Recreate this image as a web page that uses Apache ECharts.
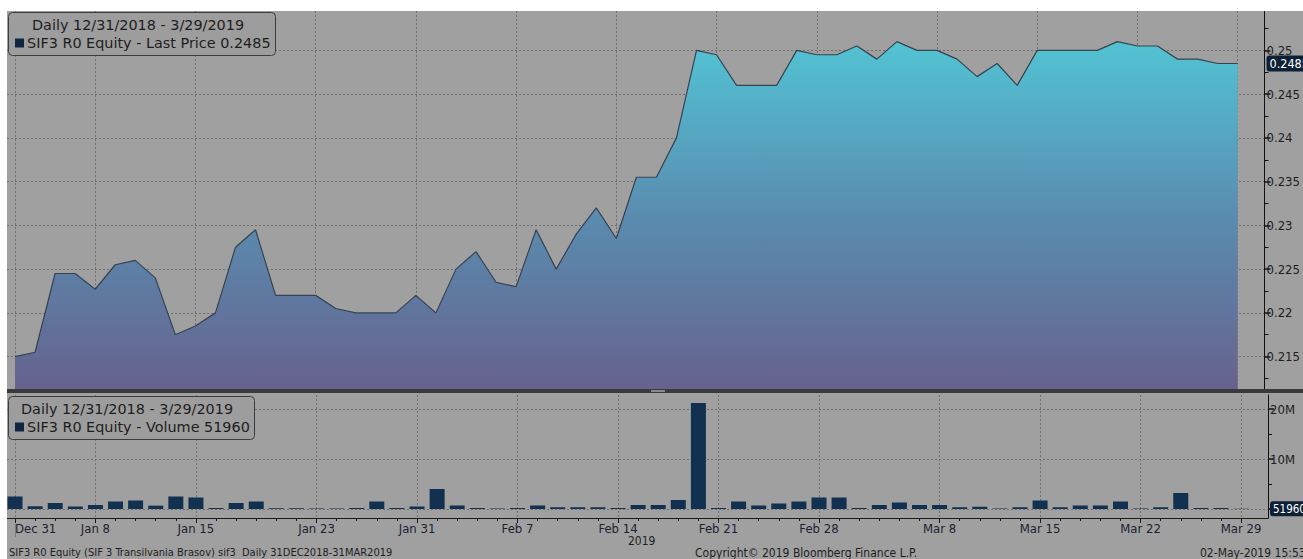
<!DOCTYPE html>
<html>
<head>
<meta charset="utf-8">
<script src="https://cdn.jsdelivr.net/npm/echarts@6/dist/echarts.min.js"></script>
<style>
html,body{margin:0;padding:0;background:#fff;}
#c{width:1303px;height:559px;}
</style>
</head>
<body>
<div id="c"></div>
<script>
// ---------- data ----------
const dates = [
 '2018-12-31',
 '2019-01-03','2019-01-04','2019-01-07','2019-01-08','2019-01-09','2019-01-10','2019-01-11',
 '2019-01-14','2019-01-15','2019-01-16','2019-01-17','2019-01-18','2019-01-21','2019-01-22',
 '2019-01-23','2019-01-25','2019-01-28','2019-01-29','2019-01-30','2019-01-31',
 '2019-02-01','2019-02-04','2019-02-05','2019-02-06','2019-02-07','2019-02-08','2019-02-11',
 '2019-02-12','2019-02-13','2019-02-14','2019-02-15','2019-02-18','2019-02-19','2019-02-20',
 '2019-02-21','2019-02-22','2019-02-25','2019-02-26','2019-02-27','2019-02-28',
 '2019-03-01','2019-03-04','2019-03-05','2019-03-06','2019-03-07','2019-03-08','2019-03-11',
 '2019-03-12','2019-03-13','2019-03-14','2019-03-15','2019-03-18','2019-03-19','2019-03-20',
 '2019-03-21','2019-03-22','2019-03-25','2019-03-26','2019-03-27','2019-03-28','2019-03-29'
];
const lastPrice = [
 0.2150,0.2155,0.2245,0.2245,0.2227,0.2255,0.2260,0.2240,0.2175,0.2185,
 0.2200,0.2275,0.2295,0.2220,0.2220,0.2220,0.2205,0.2200,0.2200,0.2200,
 0.2220,0.2200,0.2250,0.2270,0.2235,0.2230,0.2295,0.2250,0.2290,0.2320,
 0.2285,0.2355,0.2355,0.2400,0.2500,0.2495,0.2460,0.2460,0.2460,0.2500,
 0.2495,0.2495,0.2505,0.2490,0.2510,0.2500,0.2500,0.2490,0.2470,0.2485,
 0.2460,0.2500,0.2500,0.2500,0.2500,0.2510,0.2505,0.2505,0.2490,0.2490,
 0.2485,0.2485
];
const volume = [
 2500000,530000,1200000,500000,800000,1500000,1700000,670000,2500000,2300000,
 200000,1200000,1500000,150000,150000,100000,100000,200000,1500000,200000,
 500000,4000000,700000,200000,100000,200000,700000,350000,350000,350000,
 200000,800000,800000,1800000,21200000,200000,1500000,700000,1100000,1500000,
 2300000,2300000,200000,800000,1300000,800000,800000,350000,450000,100000,
 350000,1700000,350000,700000,700000,1500000,100000,350000,3200000,200000,
 200000,51960
];
const tickDates  = ['2018-12-31','2019-01-08','2019-01-15','2019-01-23','2019-01-31','2019-02-07',
                    '2019-02-14','2019-02-21','2019-02-28','2019-03-08','2019-03-15','2019-03-22','2019-03-29'];
const tickLabels = ['Dec 31','Jan 8','Jan 15','Jan 23','Jan 31','Feb 7',
                    'Feb 14','Feb 21','Feb 28','Mar 8','Mar 15','Mar 22','Mar 29'];
const priceTicks = [0.215,0.22,0.225,0.23,0.235,0.24,0.245,0.25];
const priceMinorTicks = [0.2125,0.2175,0.2225,0.2275,0.2325,0.2375,0.2425,0.2475,0.2525];
const volTicks = [0,10000000,20000000];
const volTickLabels = [10000000,20000000];
const volMinorTicks = [5000000,15000000];
const priceTitle = 'Daily 12/31/2018 - 3/29/2019';
const priceLegend = 'SIF3 R0 Equity - Last Price 0.2485';
const volTitle = 'Daily 12/31/2018 - 3/29/2019';
const volLegend = 'SIF3 R0 Equity - Volume 51960';
const footLeft = 'SIF3 R0 Equity (SIF 3 Transilvania Brasov) sif3  Daily 31DEC2018-31MAR2019';
const footMid = 'Copyright\u00A9 2019 Bloomberg Finance L.P.';
const footRight = '02-May-2019 15:53:38';
const yearLabel = '2019';

// ---------- build ----------
const tickIdx = tickDates.map(d => dates.indexOf(d));
const dayIdx = dates.map((d, i) => i).filter(i => tickIdx.indexOf(i) < 0);
const labelOf = {};
tickIdx.forEach((i, k) => labelOf[i] = tickLabels[k]);
const priceData = lastPrice.map((v, i) => [i, v]);
const volData = volume.map((v, i) => [i, v]);
const lastP = lastPrice[lastPrice.length - 1];
const lastV = volume[volume.length - 1];

const AX = "'Liberation Sans Narrow','DejaVu Sans Condensed',sans-serif";
const LG = "'DejaVu Sans',sans-serif";
const GRIDLINE = {show: true, lineStyle: {color: '#6f6f6f', type: [2, 2], width: 1}};
const XMIN = -0.4, XMAX = 62.34;

const chart = echarts.init(document.getElementById('c'), null, {renderer: 'svg'});

function legendBox(left, top, t1, t2, indent) {
  return {
    left: left, top: top,
    text: '{a|' + t1 + '}\n{s|}{b|' + t2 + '}',
    padding: [4, 5, 4, 7],
    borderColor: '#3c3c3c', borderWidth: 1, borderRadius: 4,
    backgroundColor: '#9d9d9d',
    textStyle: {
      fontFamily: LG, fontSize: 14.4, fontWeight: 'normal', color: '#1e1e1e', lineHeight: 18,
      rich: {
        a: {fontFamily: LG, fontSize: 14.4, color: '#1e1e1e', padding: [0, 0, 0, indent], lineHeight: 18},
        s: {width: 9, height: 9, backgroundColor: '#0f2540'},
        b: {fontFamily: LG, fontSize: 14.4, color: '#1e1e1e', padding: [0, 0, 0, 3], lineHeight: 18}
      }
    }
  };
}

function lastLabel(v, fs) {
  return {silent: true, symbol: 'none', precision: 6,
    lineStyle: {color: 'rgba(0,0,0,0)', width: 1, type: 'solid'},
    label: {show: true, position: 'end', distance: 2, formatter: String(v), color: '#ffffff',
            backgroundColor: '#0d2036', padding: [2, 1, 1, 3], borderRadius: 3,
            fontFamily: AX, fontSize: fs},
    data: [{yAxis: v}]};
}

const option = {
  backgroundColor: '#a0a0a0',
  animation: false,
  title: [
    legendBox(8, 12, priceTitle, priceLegend, 17),
    legendBox(8, 396, volTitle, volLegend, 6)
  ],
  grid: [
    {left: 7, right: 35, top: 11, height: 378},
    {left: 7, right: 35, top: 395, height: 123}
  ],
  xAxis: [
    {type: 'value', gridIndex: 0, min: XMIN, max: XMAX,
     axisLine: {show: false, onZero: false}, axisLabel: {show: false, customValues: tickIdx},
     axisTick: {show: false, customValues: tickIdx}, splitLine: GRIDLINE},
    {type: 'value', gridIndex: 1, position: 'bottom', min: XMIN, max: XMAX,
     axisLine: {show: true, onZero: false, lineStyle: {color: '#1a1a1a', width: 1}},
     axisTick: {show: true, customValues: tickIdx, length: 5, lineStyle: {color: '#1a1a1a'}},
     axisLabel: {customValues: tickIdx, fontFamily: AX, fontSize: 13, color: '#1c2233', margin: 4,
                 alignMinLabel: 'left',
                 formatter: v => labelOf[Math.round(v)] || ''},
     splitLine: GRIDLINE},
    {type: 'value', gridIndex: 1, position: 'bottom', min: XMIN, max: XMAX,
     axisLine: {show: false, onZero: false},
     axisTick: {show: true, customValues: dayIdx, length: 3, lineStyle: {color: '#1a1a1a'}},
     axisLabel: {show: false}, splitLine: {show: false}}
  ],
  yAxis: [
    {type: 'value', gridIndex: 0, position: 'right', min: 0.2113, max: 0.2545,
     axisLine: {show: true, onZero: false, lineStyle: {color: '#111', width: 1}},
     axisTick: {show: true, customValues: priceTicks, length: 6, lineStyle: {color: '#111', width: 1.5}},
     axisLabel: {customValues: priceTicks, fontFamily: AX, fontSize: 13, color: '#1e1e1e', margin: 2,
                 formatter: v => String(+v.toFixed(4))},
     splitLine: GRIDLINE},
    {type: 'value', gridIndex: 0, position: 'right', min: 0.2113, max: 0.2545,
     axisLine: {show: false, onZero: false},
     axisTick: {show: true, customValues: priceMinorTicks, length: 4, lineStyle: {color: '#111', width: 1}},
     axisLabel: {show: false}, splitLine: {show: false}},
    {type: 'value', gridIndex: 1, position: 'right', min: -1800000, max: 22800000,
     axisLine: {show: true, onZero: false, lineStyle: {color: '#111', width: 1}},
     axisTick: {show: true, customValues: volTicks, length: 6, lineStyle: {color: '#111', width: 1.5}},
     axisLabel: {customValues: volTickLabels, fontFamily: AX, fontSize: 13, color: '#1e1e1e', margin: 2,
                 formatter: v => (v / 1000000) + 'M'},
     splitLine: GRIDLINE},
    {type: 'value', gridIndex: 1, position: 'right', min: -1800000, max: 22800000,
     axisLine: {show: false, onZero: false},
     axisTick: {show: true, customValues: volMinorTicks, length: 4, lineStyle: {color: '#111', width: 1}},
     axisLabel: {show: false}, splitLine: {show: false}}
  ],
  series: [
    {type: 'line', name: priceLegend, xAxisIndex: 0, yAxisIndex: 0, data: priceData,
     symbol: 'none', lineStyle: {color: '#36434f', width: 1.2},
     areaStyle: {origin: 'start', opacity: 1,
       color: new echarts.graphic.LinearGradient(0, 0, 0, 1, [
         {offset: 0, color: '#52c3d3'},
         {offset: 0.5, color: '#5a8cb0'},
         {offset: 1, color: '#66628e'}
       ])},
     markLine: lastLabel(lastP, 12.5)
    },
    {type: 'bar', name: volLegend, xAxisIndex: 1, yAxisIndex: 2, data: volData,
     barWidth: 15, itemStyle: {color: '#12304f'},
     markLine: lastLabel(lastV, 11.5)
    }
  ],
  graphic: [
    {type: 'rect', left: 0, top: 0, shape: {width: 1303, height: 11}, style: {fill: '#ffffff'}, z: 100},
    {type: 'rect', left: 0, top: 0, shape: {width: 7, height: 559}, style: {fill: '#ffffff'}, z: 100},
    {type: 'rect', left: 7, top: 389, shape: {width: 1296, height: 4}, style: {fill: '#3a3a3a'}, z: 100},
    {type: 'rect', left: 651, top: 390, shape: {width: 14, height: 2}, style: {fill: '#8a8a8a'}, z: 101},
    {type: 'line', shape: {x1: 15.5, y1: 524, x2: 15.5, y2: 537}, style: {stroke: '#7a7a7a', lineWidth: 1}, z: 100},
    {type: 'text', left: 628, top: 535, style: {text: yearLabel, font: "12px " + AX, fill: '#1e1e1e'}, z: 100},
    {type: 'text', left: 9, top: 547, style: {text: footLeft, font: "11px " + AX, fill: '#1e1e1e'}, z: 100},
    {type: 'text', left: 695, top: 547, style: {text: footMid, font: "12px " + AX, fill: '#1e1e1e'}, z: 100},
    {type: 'text', left: 1200, top: 547, style: {text: footRight, font: "12px " + AX, fill: '#1e1e1e'}, z: 100}
  ]
};
chart.setOption(option);
</script>
</body>
</html>
